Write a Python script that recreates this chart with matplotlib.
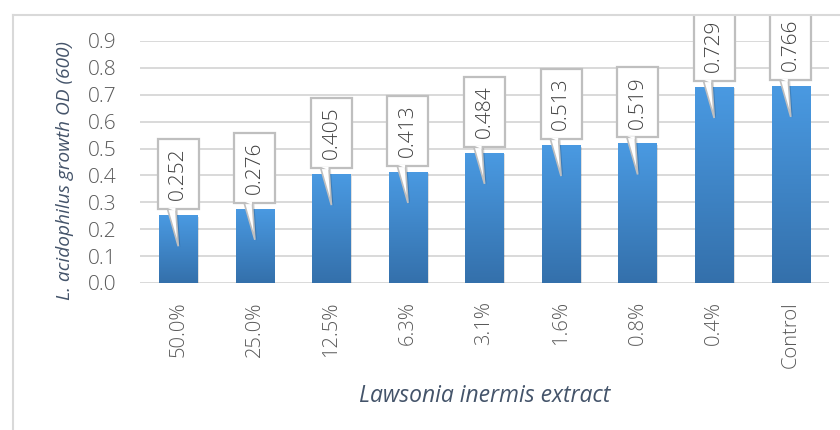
import matplotlib
matplotlib.use("Agg")
import matplotlib.pyplot as plt
import numpy as np
from matplotlib.patches import Rectangle, Polygon
from matplotlib.colors import LinearSegmentedColormap
from matplotlib.transforms import Bbox, TransformedBbox

categories = ["50.0%", "25.0%", "12.5%", "6.3%", "3.1%", "1.6%", "0.8%", "0.4%", "Control"]
bar_values = [0.252, 0.276, 0.405, 0.413, 0.484, 0.513, 0.519, 0.729, 0.733]
value_labels = ["0.252", "0.276", "0.405", "0.413", "0.484", "0.513", "0.519", "0.729", "0.766"]
yticks = [0.0, 0.1, 0.2, 0.3, 0.4, 0.5, 0.6, 0.7, 0.8, 0.9]

plt.rcParams['font.family'] = ['Open Sans', 'DejaVu Sans']

W, H = 840, 430
fig = plt.figure(figsize=(W / 100, H / 100), dpi=100)
ax = fig.add_axes([140 / W, 1 - 283 / H, (829 - 140) / W, (283 - 41) / H])

grid_c = "#D9D9D9"
text_c = "#595959"
label_c = "#44546A"

# chart frame (top and left borders)
fig.add_artist(plt.Line2D([13 / W, 1], [1 - 15 / H, 1 - 15 / H], color=grid_c, lw=1.5, transform=fig.transFigure))
fig.add_artist(plt.Line2D([13 / W, 13 / W], [0, 1 - 15 / H], color=grid_c, lw=1.5, transform=fig.transFigure))

n = len(categories)
x = np.arange(n)
ax.set_xlim(-0.5, n - 0.5)
ax.set_ylim(0, 0.9)

for yv in yticks:
    ax.axhline(yv, color=grid_c, lw=1.4, zorder=0)

cmap = LinearSegmentedColormap.from_list("g", ["#3470AB", "#4A9AE2"])
grad = np.linspace(0, 1, 256).reshape(-1, 1)
bw = 0.5
px_y = 0.9 / (283 - 41)  # data units per pixel vertically
px_x = n / (829 - 140)

for xi, v in zip(x, bar_values):
    sh = Rectangle((xi - bw / 2 + 1.5 * px_x, 0), bw, v - 1.5 * px_y, facecolor="#000000", alpha=0.12,
                   edgecolor="none", zorder=1)
    ax.add_patch(sh)
    rect = Rectangle((xi - bw / 2, 0), bw, v, facecolor="none", edgecolor="none", zorder=2)
    ax.add_patch(rect)
    im = ax.imshow(grad, extent=[xi - bw / 2, xi + bw / 2, 0, v], origin="lower", aspect="auto",
                   cmap=cmap, zorder=2, interpolation="bilinear")
    im.set_clip_path(rect)

ax.set_xlim(-0.5, n - 0.5)
ax.set_ylim(0, 0.9)

frame_clip = TransformedBbox(Bbox([[13 / W, 0], [1, 1 - 15.5 / H]]), fig.transFigure)

box_w = 41 * px_x
box_h = 70 * px_y
gap = 6 * px_y
tip_d = 31 * px_y
for xi, v, lab in zip(x, bar_values, value_labels):
    b0 = v + gap
    pts = [(xi - 11 * px_x, b0 + 1 * px_y), (xi - 2.5 * px_x, b0 + 1 * px_y), (xi, v - tip_d)]
    shp = Polygon([(p[0] + 2 * px_x, p[1] - 1 * px_y) for p in pts], closed=True, facecolor="#000000",
                  alpha=0.15, edgecolor="none", zorder=4, clip_on=False)
    ax.add_patch(shp)
    ptr = Polygon(pts, closed=True, facecolor="white", edgecolor="#BFBFBF", lw=1.2, zorder=5, clip_on=False)
    ax.add_patch(ptr)
    box = Rectangle((xi - box_w / 2, b0), box_w, box_h, facecolor="white", edgecolor="#BFBFBF", lw=1.6,
                    zorder=6, clip_on=True)
    ax.add_patch(box)
    box.set_clip_box(frame_clip)
    cov = Polygon([(pts[0][0] + 0.6 * px_x, b0 + 1.2 * px_y), (pts[1][0] - 0.3 * px_x, b0 + 1.2 * px_y),
                   (xi - 3 * px_x, b0 - 2 * px_y)], closed=True, facecolor="white", edgecolor="none",
                  zorder=7, clip_on=False)
    ax.add_patch(cov)
    t = ax.text(xi, b0 + box_h / 2, lab, rotation=90, ha="center", va="center", fontsize=15,
                color="#404040", zorder=8, fontweight="light", clip_on=True)
    t.set_clip_box(frame_clip)

for s in ax.spines.values():
    s.set_visible(False)

ax.set_yticks(yticks)
ax.set_yticklabels([f"{v:.1f}" for v in yticks], fontsize=15, color=text_c, fontweight="light")
ax.set_xticks(x)
ax.set_xticklabels(categories, rotation=90, fontsize=14.5, color=text_c, fontweight="light", va="top")
ax.tick_params(axis="y", length=0, pad=17)
ax.tick_params(axis="x", length=0, pad=13)

ax.set_ylabel("L. acidophilus growth OD (600)", fontsize=13.8, style="italic", color=label_c)
ax.yaxis.set_label_coords(-(140 - 65) / (829 - 140), (283 - 171) / (283 - 41))
ax.yaxis.label.set_va("center")
ax.set_xlabel("Lawsonia inermis extract", fontsize=16.5, style="italic", color=label_c)
ax.xaxis.set_label_coords(0.5, -(396 - 283) / (283 - 41))
ax.xaxis.label.set_va("center")

fig.savefig("out.png", dpi=100)
